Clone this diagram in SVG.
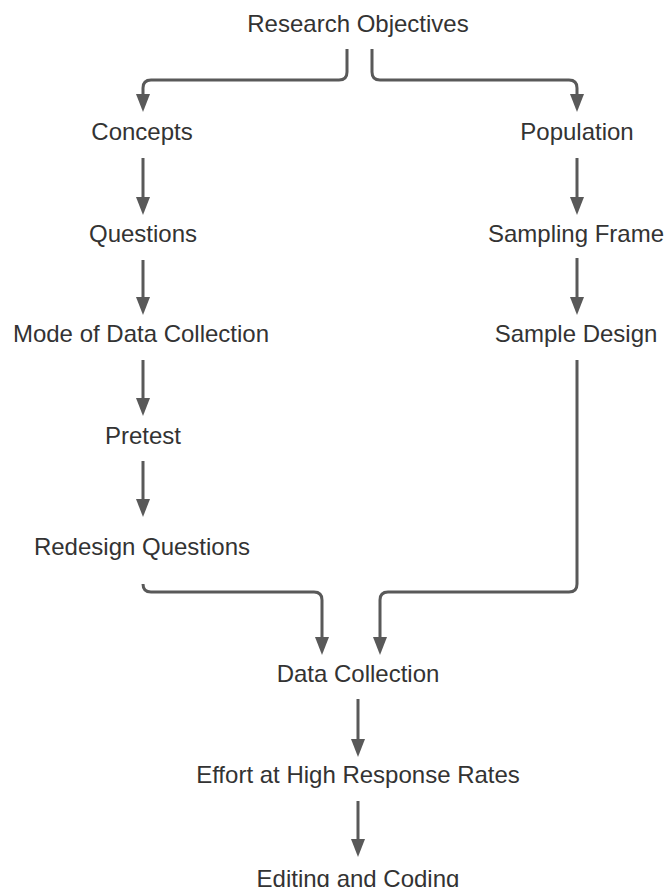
<svg xmlns="http://www.w3.org/2000/svg" width="665" height="887" viewBox="0 0 665 887">
  <style>
    .label { font-family: "Liberation Sans", Arial, sans-serif; font-size: 24px; fill: #333333; text-anchor: middle; }
    .edge { fill: none; stroke: #595959; stroke-width: 3; marker-end: url(#arrow); }
  </style>
  <defs>
    <marker id="arrow" markerUnits="userSpaceOnUse" viewBox="0 0 18 14" markerWidth="18" markerHeight="14" refX="8" refY="7" orient="auto">
      <path d="M0,0 L18,7 L0,14 z" fill="#595959"/>
    </marker>
  </defs>
  <rect width="665" height="887" fill="#ffffff"/>

  <g id="connectors">
    <path class="edge" d="M347,49 V72 Q347,80 339,80 H151 Q143,80 143,88 V102"/>
    <path class="edge" d="M372,49 V72 Q372,80 380,80 H569 Q577,80 577,88 V102"/>
    <path class="edge" d="M143,158 V205"/>
    <path class="edge" d="M143,260 V305"/>
    <path class="edge" d="M143,360 V406"/>
    <path class="edge" d="M143,461 V507"/>
    <path class="edge" d="M577,158 V205"/>
    <path class="edge" d="M577,258 V305"/>
    <path class="edge" d="M577,360 V584 Q577,592 569,592 H388 Q380,592 380,600 V645"/>
    <path class="edge" d="M143,584 Q143,592 151,592 H314 Q322,592 322,600 V645"/>
    <path class="edge" d="M358,699 V747"/>
    <path class="edge" d="M358,801 V847"/>
  </g>

  <g id="research-objectives"><text class="label" x="358" y="32">Research Objectives</text></g>
  <g id="concepts"><text class="label" x="142" y="140">Concepts</text></g>
  <g id="population"><text class="label" x="577" y="140">Population</text></g>
  <g id="questions"><text class="label" x="143" y="242">Questions</text></g>
  <g id="sampling-frame"><text class="label" x="576" y="242">Sampling Frame</text></g>
  <g id="mode-of-data-collection"><text class="label" x="141" y="342">Mode of Data Collection</text></g>
  <g id="sample-design"><text class="label" x="576" y="342">Sample Design</text></g>
  <g id="pretest"><text class="label" x="143" y="444">Pretest</text></g>
  <g id="redesign-questions"><text class="label" x="142" y="555">Redesign Questions</text></g>
  <g id="data-collection"><text class="label" x="358" y="682">Data Collection</text></g>
  <g id="effort"><text class="label" x="358" y="783">Effort at High Response Rates</text></g>
  <g id="editing-coding"><text class="label" x="358" y="887">Editing and Coding</text></g>
</svg>
